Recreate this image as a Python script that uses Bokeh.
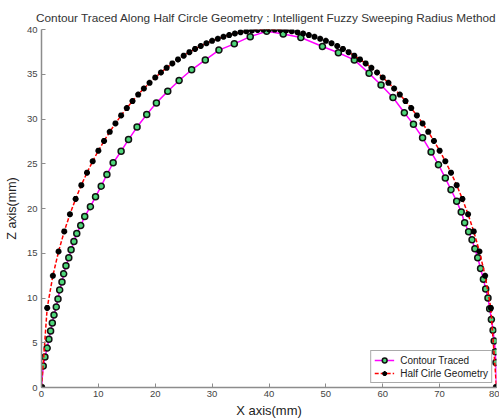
from bokeh.plotting import figure
from bokeh.models import Range1d, FixedTicker, Legend, LegendItem
from bokeh.embed import file_html
from bokeh.resources import INLINE

# Contour traced by the fuzzy sweeping radius method
traced_x = [0, 0.3, 0.6, 1.0, 1.3, 1.6, 1.9, 2.2, 2.6, 2.9, 3.2, 3.6, 3.9, 4.3, 4.8,
            5.2, 5.7, 6.2, 6.9, 7.6, 8.6, 9.5, 10.5, 11.5, 12.6, 14.0, 15.3, 16.8,
            18.5, 20.2, 22.2, 24.2, 26.4, 28.8, 31.2, 33.9, 36.7, 39.6, 42.5, 45.6,
            49.4, 52.2, 55.0, 57.6, 59.7, 61.8, 63.8, 65.4, 67.0, 68.5, 69.8, 71.0,
            72.0, 73.0, 73.8, 74.4, 75.1, 75.7, 76.2, 76.7, 77.2, 77.7, 78.1, 78.5,
            78.8, 79.1, 79.4, 79.6, 79.8, 79.9, 80]
traced_z = [0, 2.4, 3.4, 4.4, 5.4, 6.3, 7.2, 8.1, 9.0, 9.9, 10.9, 11.8, 12.7, 13.6, 14.5,
            15.4, 16.3, 17.2, 18.1, 19.1, 20.2, 21.3, 22.5, 23.8, 25.1, 26.4, 27.7, 29.1,
            30.5, 31.8, 33.1, 34.3, 35.5, 36.6, 37.7, 38.4, 39.2, 39.8, 39.5, 39.1,
            38.1, 37.4, 36.6, 35.1, 33.8, 32.4, 30.7, 29.4, 27.9, 26.3, 24.9, 23.4,
            22.1, 20.8, 19.6, 18.4, 17.4, 16.5, 15.5, 14.5, 13.3, 12.1, 11.0, 10.0,
            8.8, 7.6, 6.4, 5.2, 4.0, 2.8, 0]

# Half circle geometry (one per mm)
circle_x = [0, 1, 2, 3, 4, 5, 6, 7, 8, 9, 10, 11, 12, 13, 14, 15, 16, 17, 18, 19, 20,
            21, 22, 23, 24, 25, 26, 27, 28, 29, 30, 31, 32, 33, 34, 35, 36, 37, 38, 39, 40,
            41, 42, 43, 44, 45, 46, 47, 48, 49, 50, 51, 52, 53, 54, 55, 56, 57, 58, 59, 60,
            61, 62, 63, 64, 65, 66, 67, 68, 69, 70, 71, 72, 73, 74, 75, 76, 77, 78, 79, 80]
circle_z = [0, 8.89, 12.49, 15.20, 17.44, 19.36, 21.07, 22.61, 24.00, 25.28, 26.46,
            27.55, 28.57, 29.51, 30.40, 31.22, 32.00, 32.73, 33.41, 34.04, 34.64,
            35.20, 35.72, 36.21, 36.66, 37.08, 37.47, 37.83, 38.16, 38.46, 38.73,
            38.97, 39.19, 39.38, 39.55, 39.69, 39.80, 39.89, 39.95, 39.99, 40.00,
            39.99, 39.95, 39.89, 39.80, 39.69, 39.55, 39.38, 39.19, 38.97, 38.73,
            38.46, 38.16, 37.83, 37.47, 37.08, 36.66, 36.21, 35.72, 35.20, 34.64,
            34.04, 33.41, 32.73, 32.00, 31.22, 30.40, 29.51, 28.57, 27.55, 26.46,
            25.28, 24.00, 22.61, 21.07, 19.36, 17.44, 15.20, 12.49, 8.89, 0]

x_ticks = [0, 10, 20, 30, 40, 50, 60, 70, 80]
z_ticks = [0, 5, 10, 15, 20, 25, 30, 35, 40]

FONT = "Liberation Sans"

p = figure(width=499, height=420, output_backend="svg", toolbar_location=None,
           x_range=Range1d(0, 80), y_range=Range1d(0, 40),
           min_border_left=41, min_border_right=3, min_border_top=29, min_border_bottom=32)
p.outline_line_color = None
p.grid.visible = False
p.background_fill_color = "white"

p.title.text = "Contour Traced Along Half Circle Geometry : Intelligent Fuzzy Sweeping Radius Method"
p.title.text_font = FONT
p.title.text_font_size = "11.8px"
p.title.text_font_style = "normal"
p.title.text_color = "#333333"
p.title.align = "right"
p.title.offset = 0
p.title.standoff = 9

for ax in (p.xaxis[0], p.yaxis[0]):
    ax.axis_line_color = "#8c8c8c"
    ax.axis_line_width = 1.5
    ax.major_tick_line_color = "#8c8c8c"
    ax.major_tick_in = 4
    ax.major_tick_out = 0
    ax.minor_tick_line_color = None
    ax.major_label_text_font = FONT
    ax.major_label_text_font_size = "9.5px"
    ax.major_label_text_color = "#444444"
    ax.axis_label_text_font = FONT
    ax.axis_label_text_font_style = "normal"
    ax.axis_label_text_color = "#222222"

p.xaxis.ticker = FixedTicker(ticks=x_ticks)
p.yaxis.ticker = FixedTicker(ticks=z_ticks)
p.xaxis.axis_label = "X axis(mm)"
p.yaxis.axis_label = "Z axis(mm)"
p.xaxis.axis_label_text_font_size = "13px"
p.yaxis.axis_label_text_font_size = "12.5px"
p.xaxis.major_label_standoff = 3
p.yaxis.major_label_standoff = 4
p.xaxis.axis_label_standoff = 3
p.yaxis.axis_label_standoff = 5

l1 = p.line(traced_x, traced_z, line_color="#ff00ff", line_width=1.5)
s1 = p.scatter(traced_x, traced_z, marker="circle", size=6, fill_color="#4fd67a",
               line_color="#111111", line_width=1.5)
l2 = p.line(circle_x, circle_z, line_color="#ff0000", line_width=1.5, line_dash="4 2")
s2 = p.scatter(circle_x, circle_z, marker="asterisk", size=6, line_color="black",
               line_width=2)

legend = Legend(items=[LegendItem(label="Contour Traced", renderers=[l1, s1]),
                       LegendItem(label="Half Cirle Geometry", renderers=[l2, s2])],
                location="bottom_right")
legend.label_text_font = FONT
legend.label_text_font_size = "10px"
legend.label_text_color = "#222222"
legend.border_line_color = "#555555"
legend.border_line_width = 1
legend.background_fill_alpha = 1
legend.padding = 3
legend.spacing = 1
legend.margin = 4
legend.glyph_width = 20
legend.glyph_height = 12
legend.label_height = 12
legend.label_standoff = 6
p.add_layout(legend)

open("out.html", "w").write(file_html(p, INLINE))
